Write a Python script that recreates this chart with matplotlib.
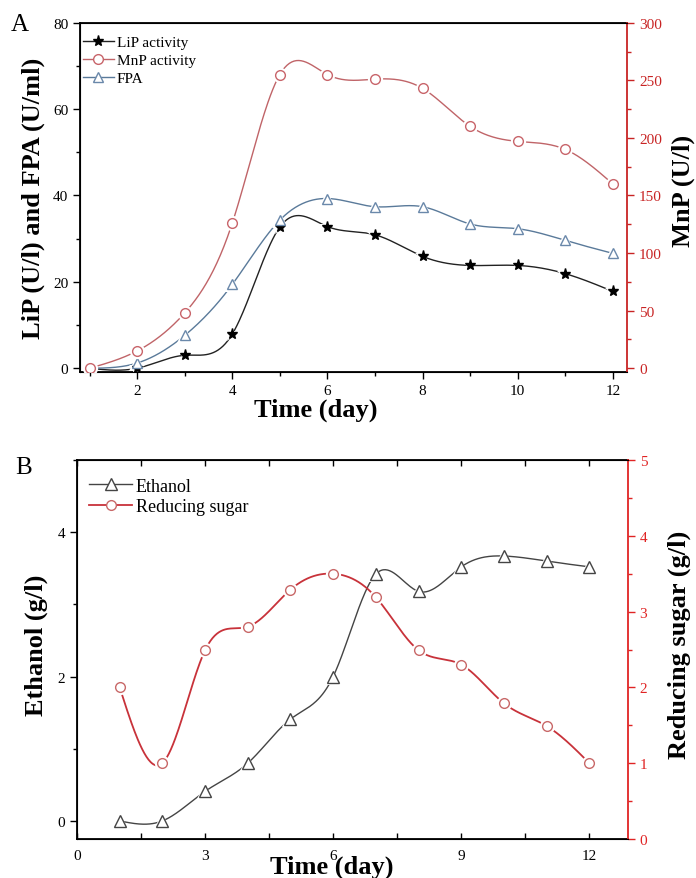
import numpy as np
import matplotlib
matplotlib.use("Agg")
import matplotlib.pyplot as plt
from matplotlib.ticker import MultipleLocator

plt.rcParams['font.family'] = ['Liberation Serif', 'DejaVu Serif']
plt.rcParams['mathtext.fontset'] = 'stix'

# ---------------- data ----------------
days = [1, 2, 3, 4, 5, 6, 7, 8, 9, 10, 11, 12]
lip = [0, 0, 3, 7.9, 32.7, 32.8, 30.9, 25.9, 23.8, 23.8, 21.9, 17.8]
fpa = [0, 1.2, 7.6, 19.4, 34.3, 39.3, 37.4, 37.4, 33.4, 32.3, 29.6, 26.6]
mnp = [0, 15, 48, 126, 255, 255, 251, 243, 210, 197, 190, 160]

ethanol = [0, 0, 0.41, 0.80, 1.41, 2.0, 3.42, 3.18, 3.52, 3.67, 3.6, 3.52]
sugar = [2.0, 1.0, 2.49, 2.8, 3.29, 3.5, 3.19, 2.49, 2.3, 1.79, 1.49, 1.0]


def natural_spline(x, y, n=40):
    """Dense curve of a natural cubic spline through (x, y), used only to draw the connector."""
    x = np.asarray(x, float)
    y = np.asarray(y, float)
    m = len(x)
    h = np.diff(x)
    A = np.zeros((m, m))
    b = np.zeros(m)
    A[0, 0] = 1
    A[-1, -1] = 1
    for i in range(1, m - 1):
        A[i, i - 1] = h[i - 1]
        A[i, i] = 2 * (h[i - 1] + h[i])
        A[i, i + 1] = h[i]
        b[i] = 6 * ((y[i + 1] - y[i]) / h[i] - (y[i] - y[i - 1]) / h[i - 1])
    M = np.linalg.solve(A, b)
    xs, ys = [], []
    for i in range(m - 1):
        t = np.linspace(x[i], x[i + 1], n, endpoint=(i == m - 2))
        a = x[i + 1] - t
        c = t - x[i]
        s = (M[i] * a ** 3 + M[i + 1] * c ** 3) / (6 * h[i]) \
            + (y[i] / h[i] - M[i] * h[i] / 6) * a \
            + (y[i + 1] / h[i] - M[i + 1] * h[i] / 6) * c
        xs.append(t)
        ys.append(s)
    return np.concatenate(xs), np.concatenate(ys)


def draw_series(ax, x, y, lcolor, mcolor, marker, ms, mfc, label, lw=1.0, z=3):
    sx, sy = natural_spline(x, y)
    ax.plot(sx, sy, color=lcolor, lw=lw, zorder=z)
    # white halo so the line stops short of each marker
    ax.plot(x, y, ls='none', marker=marker, ms=ms + 4, mfc='white', mec='white', mew=0, zorder=z + 0.1)
    ax.plot(x, y, ls='none', marker=marker, ms=ms, mfc=mfc, mec=mcolor, mew=1.0, zorder=z + 0.2)
    h, = ax.plot([], [], color=lcolor, lw=lw, marker=marker, ms=ms, mfc=mfc, mec=mcolor, mew=1.0, label=label)
    return h


fig = plt.figure(figsize=(6.96, 8.79), dpi=100)

RED_A = '#c82424'
RED_B = '#e02424'

# ---------------- Panel A ----------------
axA = fig.add_axes([0.115, 0.576, 0.786, 0.397])
axA2 = axA.twinx()
axA.set_xlim(0.8, 12.3)
axA.set_ylim(-0.8, 80)
axA2.set_ylim(-3.0, 300)

h1 = draw_series(axA, days, lip, '#222222', 'black', '*', 8, 'black', 'LiP activity')
h3 = draw_series(axA, days, fpa, '#5a7a9a', '#6a88aa', '^', 7, 'white', 'FPA')
h2 = draw_series(axA2, days, mnp, '#c06468', '#c8646a', 'o', 7, 'white', 'MnP activity')

axA.xaxis.set_major_locator(MultipleLocator(2))
axA.xaxis.set_minor_locator(MultipleLocator(1))
axA.yaxis.set_major_locator(MultipleLocator(20))
axA.yaxis.set_minor_locator(MultipleLocator(10))
axA2.yaxis.set_major_locator(MultipleLocator(50))
axA2.yaxis.set_minor_locator(MultipleLocator(25))

for a in (axA, axA2):
    a.tick_params(which='major', length=5, width=1.0, labelsize=11, direction='out')
    a.tick_params(which='minor', length=3, width=1.0, direction='out')
axA.tick_params(axis='x', which='both', top=False)
axA2.tick_params(axis='y', which='both', colors=RED_A)
axA2.spines['right'].set_color(RED_A)
axA2.spines['right'].set_linewidth(1.3)
for s in ['left', 'bottom', 'top']:
    axA.spines[s].set_linewidth(1.3)
axA.spines['right'].set_visible(False)

axA.set_xlabel('Time (day)', fontsize=19, fontweight='bold', va='center')
axA.xaxis.set_label_coords(0.43, -0.108)
axA.set_ylabel('LiP (U/l) and FPA (U/ml)', fontsize=19, fontweight='bold', va='center')
axA.yaxis.set_label_coords(-0.085, 0.50)
axA2.set_ylabel('MnP (U/l)', fontsize=19, fontweight='bold', rotation=90, va='center')
axA2.yaxis.set_label_coords(1.102, 0.52)

legA = axA2.legend(handles=[h1, h2, h3], loc='upper left', bbox_to_anchor=(0.0, 0.972),
                   frameon=False, fontsize=11,
                   handlelength=2.0, handletextpad=0.2, labelspacing=0.28,
                   borderaxespad=0.0, borderpad=0.2)
fig.text(0.016, 0.972, 'A', fontsize=18, va='center', ha='left')

# ---------------- Panel B ----------------
axB = fig.add_axes([0.1106, 0.0444, 0.7914, 0.4311])
axB2 = axB.twinx()
axB.set_xlim(0, 12.9)
axB.set_ylim(-0.25, 5.0)
axB2.set_ylim(0, 5)

hE = draw_series(axB, days, ethanol, '#444444', '#444444', '^', 8, 'white', 'Ethanol')
hS = draw_series(axB2, days, sugar, '#c8323a', '#c86868', 'o', 7, 'white', 'Reducing sugar', lw=1.3)

axB.xaxis.set_major_locator(MultipleLocator(3))
axB.xaxis.set_minor_locator(MultipleLocator(1.5))
axB.yaxis.set_major_locator(MultipleLocator(2))
axB.yaxis.set_minor_locator(MultipleLocator(1))
axB2.yaxis.set_major_locator(MultipleLocator(1))
axB2.yaxis.set_minor_locator(MultipleLocator(0.5))

axB.tick_params(axis='y', which='major', length=5, width=1.0, labelsize=11, direction='out')
axB.tick_params(axis='y', which='minor', length=3, width=1.0, direction='out')
axB.tick_params(axis='x', which='both', length=4, width=1.0, labelsize=11, direction='in',
                top=True, pad=7)
axB2.tick_params(axis='y', which='major', length=5, width=1.0, labelsize=11, direction='out', colors=RED_B)
axB2.tick_params(axis='y', which='minor', length=3, width=1.0, direction='out', colors=RED_B)
axB2.spines['right'].set_color(RED_B)
axB2.spines['right'].set_linewidth(1.3)
for s in ['left', 'bottom', 'top']:
    axB.spines[s].set_linewidth(1.3)
axB.spines['right'].set_visible(False)

axB.set_xlabel('Time (day)', fontsize=19, fontweight='bold', va='center')
axB.xaxis.set_label_coords(0.462, -0.072)
axB.set_ylabel('Ethanol (g/l)', fontsize=19, fontweight='bold', va='center')
axB.yaxis.set_label_coords(-0.073, 0.515)
axB2.set_ylabel('Reducing sugar (g/l)', fontsize=19, fontweight='bold', rotation=90, va='center')
axB2.yaxis.set_label_coords(1.094, 0.515)

legB = axB2.legend(handles=[hE, hS], loc='upper left', bbox_to_anchor=(0.012, 0.968),
                   frameon=False, fontsize=13,
                   handlelength=2.4, handletextpad=0.2, labelspacing=0.2,
                   borderaxespad=0.0, borderpad=0.3)
fig.text(0.022, 0.468, 'B', fontsize=18, va='center', ha='left')

fig.savefig('out.png', dpi=100)
